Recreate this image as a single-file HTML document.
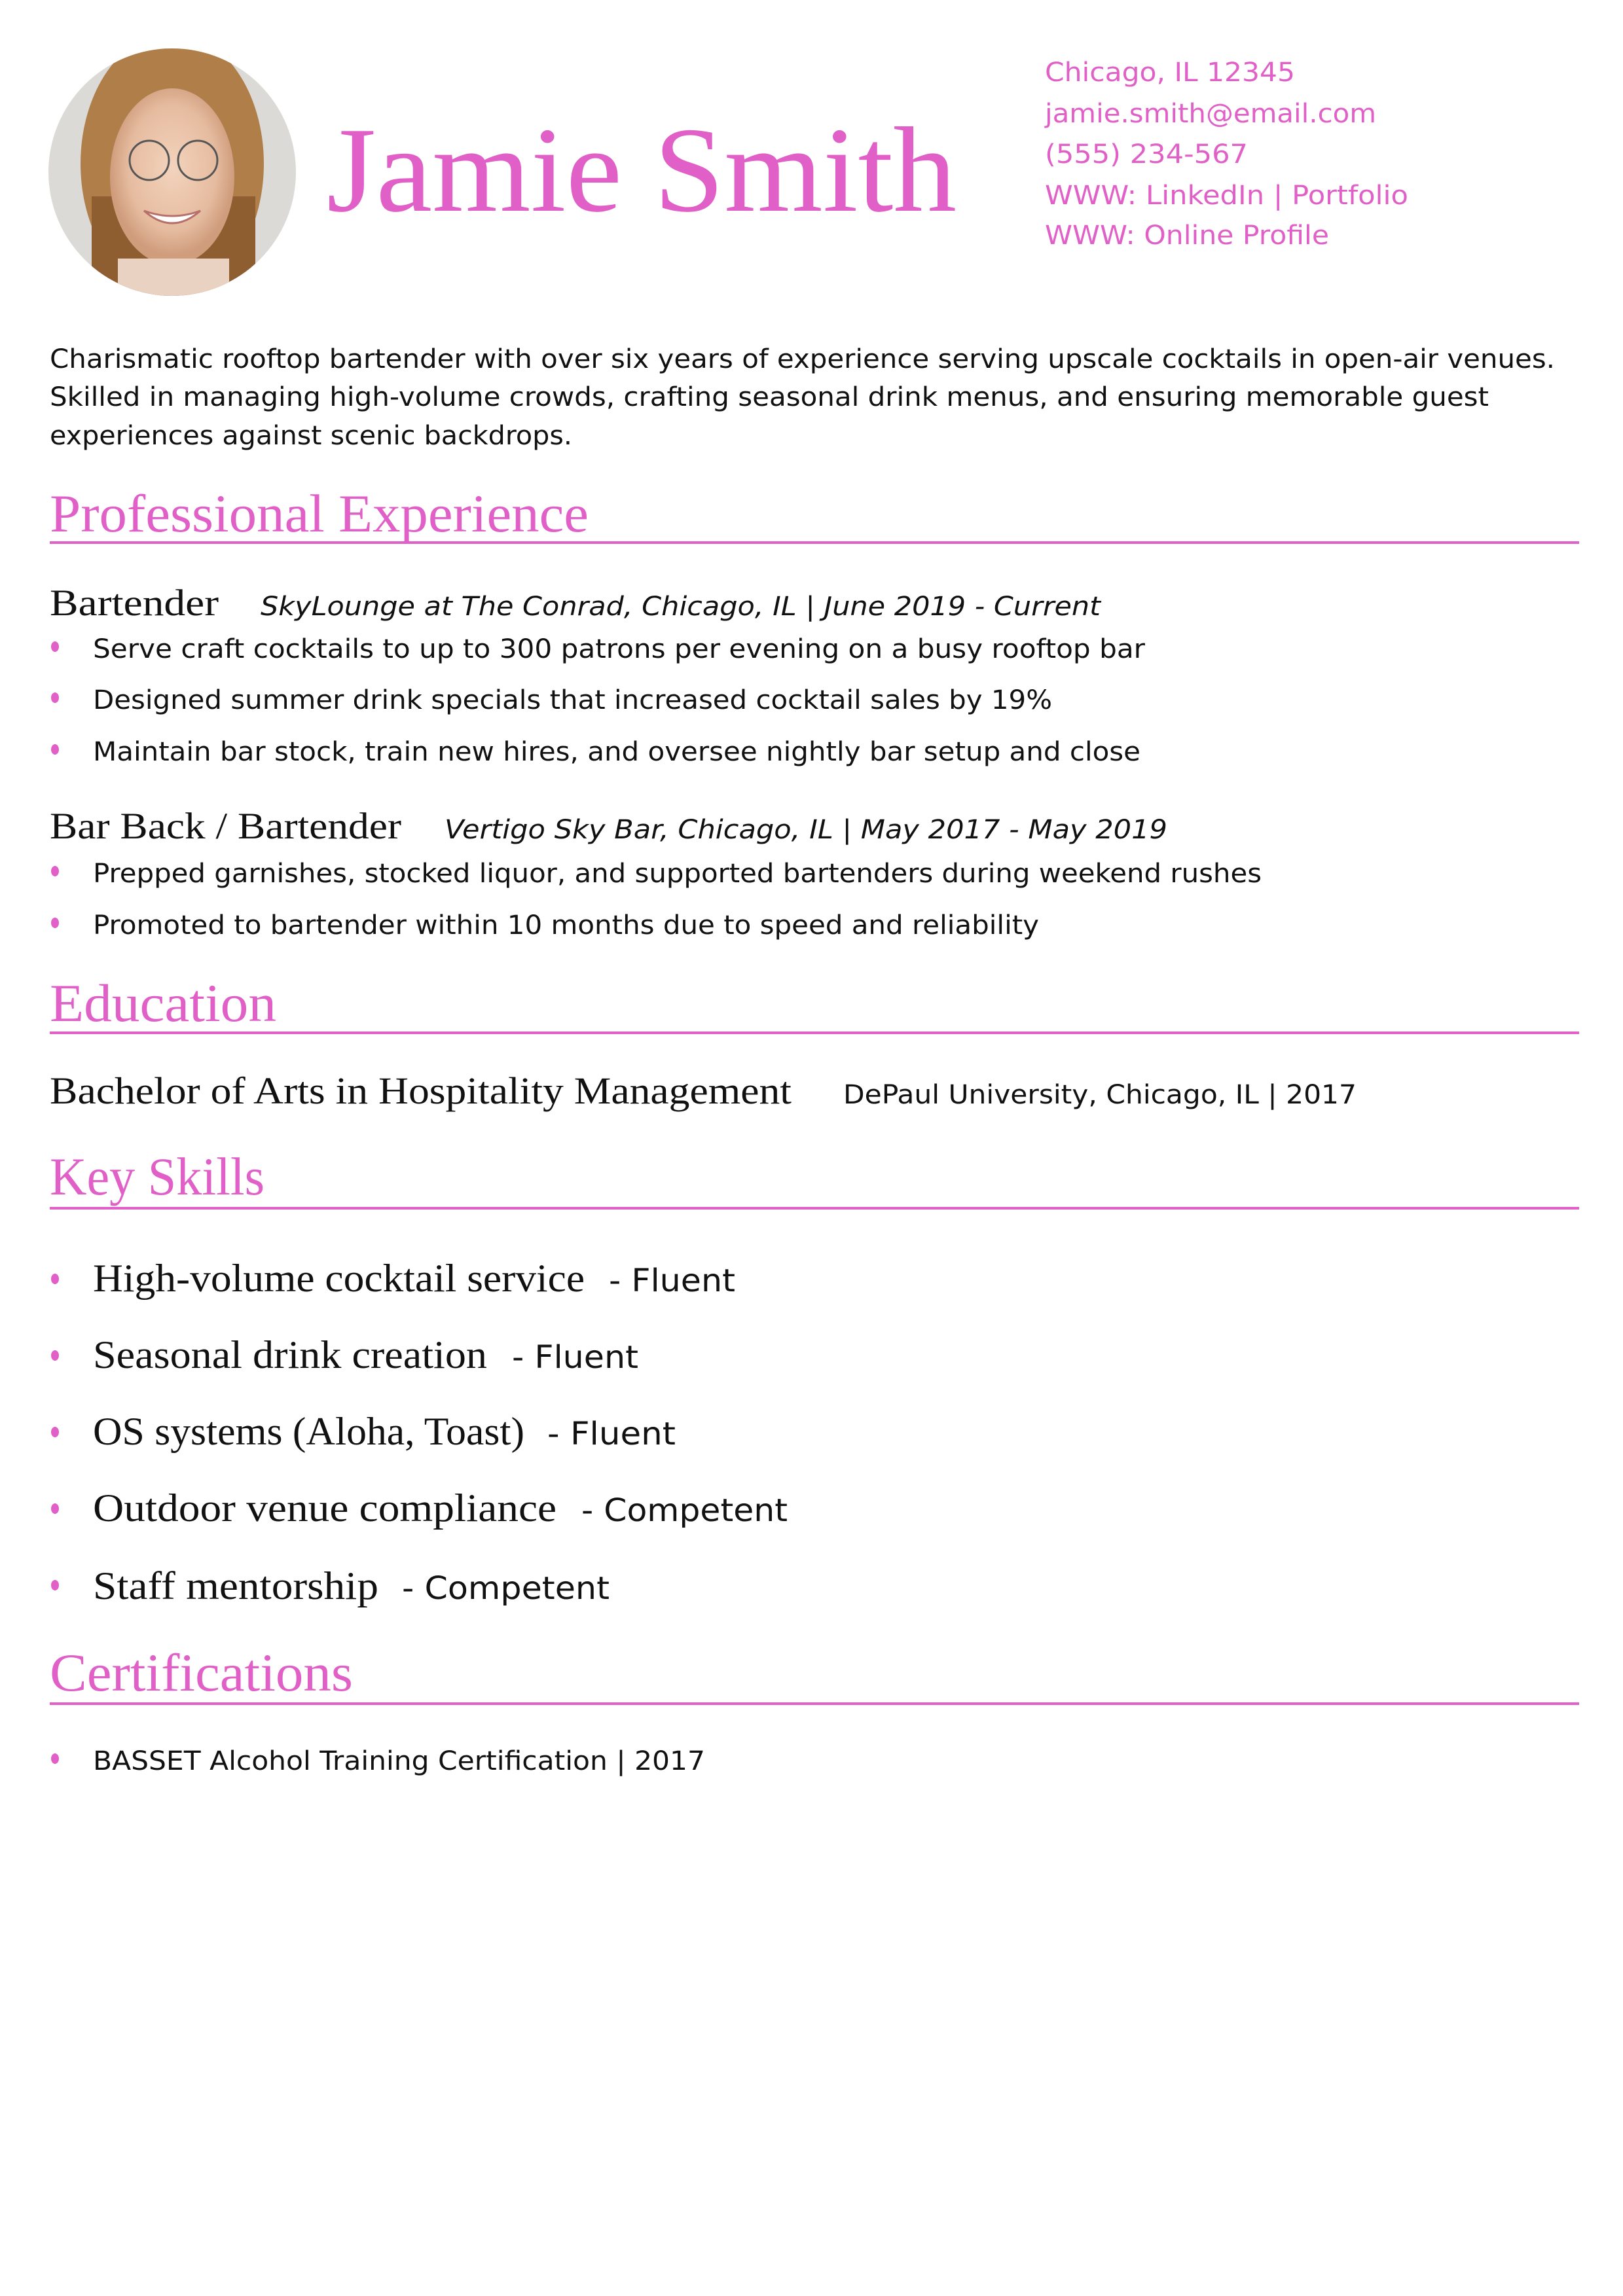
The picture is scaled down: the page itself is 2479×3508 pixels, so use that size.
<!DOCTYPE html>
<html><head><meta charset="utf-8"><style>
html,body{margin:0;padding:0;background:#fff}
svg{display:block}
.s{font-family:"DejaVu Sans","Liberation Sans",sans-serif}
.r{font-family:"Liberation Serif",serif}
.p{fill:#e060c8}
</style></head><body>
<svg width="2479" height="3508" viewBox="0 0 2479 3508" xmlns="http://www.w3.org/2000/svg">
<defs>
<clipPath id="c"><circle cx="263" cy="263" r="189"/></clipPath>
<radialGradient id="face" cx="0.5" cy="0.45" r="0.5">
<stop offset="0" stop-color="#f3d3bd"/><stop offset="0.7" stop-color="#e6bca0"/><stop offset="1" stop-color="#cf9c7c"/></radialGradient>
</defs>
<g clip-path="url(#c)">
<rect x="70" y="70" width="390" height="390" fill="#dcdad6"/>
<ellipse cx="263" cy="250" rx="140" ry="200" fill="#b07e48"/>
<rect x="140" y="300" width="250" height="170" fill="#8e5d30"/>
<ellipse cx="263" cy="270" rx="95" ry="135" fill="url(#face)"/>
<circle cx="228" cy="245" r="30" fill="none" stroke="#555" stroke-width="3"/>
<circle cx="302" cy="245" r="30" fill="none" stroke="#555" stroke-width="3"/>
<path d="M220 322 Q263 360 306 322 Q263 338 220 322Z" fill="#fff" stroke="#b8706a" stroke-width="3"/>
<rect x="180" y="395" width="170" height="80" fill="#ead2c2"/>
</g>
<text x="499" y="322" class="r p" font-size="186" textLength="962" lengthAdjust="spacingAndGlyphs">Jamie Smith</text>
<g class="s p" font-size="40">
<text x="1596" y="124" textLength="382" lengthAdjust="spacingAndGlyphs">Chicago, IL 12345</text>
<text x="1596" y="187" textLength="506" lengthAdjust="spacingAndGlyphs">jamie.smith@email.com</text>
<text x="1596" y="249" textLength="310" lengthAdjust="spacingAndGlyphs">(555) 234-567</text>
<text x="1596" y="312" textLength="555" lengthAdjust="spacingAndGlyphs">WWW: LinkedIn | Portfolio</text>
<text x="1596" y="373" textLength="434" lengthAdjust="spacingAndGlyphs">WWW: Online Profile</text>
</g>
<g class="s" font-size="40" fill="#111">
<text x="76" y="562" textLength="2299" lengthAdjust="spacingAndGlyphs">Charismatic rooftop bartender with over six years of experience serving upscale cocktails in open-air venues.</text>
<text x="76" y="620" textLength="2198" lengthAdjust="spacingAndGlyphs">Skilled in managing high-volume crowds, crafting seasonal drink menus, and ensuring memorable guest</text>
<text x="76" y="679" textLength="798" lengthAdjust="spacingAndGlyphs">experiences against scenic backdrops.</text>
</g>
<g class="r p" font-size="82">
<text x="76" y="812" textLength="823" lengthAdjust="spacingAndGlyphs">Professional Experience</text>
<text x="76" y="1560" textLength="346" lengthAdjust="spacingAndGlyphs">Education</text>
<text x="76" y="1825" textLength="328" lengthAdjust="spacingAndGlyphs">Key Skills</text>
<text x="76" y="2583" textLength="463" lengthAdjust="spacingAndGlyphs">Certifications</text>
</g>
<g fill="#e060c8">
<rect x="76" y="827" width="2336" height="4"/>
<rect x="76" y="1576" width="2336" height="4"/>
<rect x="76" y="1844" width="2336" height="4"/>
<rect x="76" y="2601" width="2336" height="4"/>
<ellipse cx="84" cy="988" rx="6" ry="8"/>
<ellipse cx="84" cy="1066" rx="6" ry="8"/>
<ellipse cx="84" cy="1145" rx="6" ry="8"/>
<ellipse cx="84" cy="1331" rx="6" ry="8"/>
<ellipse cx="84" cy="1410" rx="6" ry="8"/>
<ellipse cx="84" cy="1954" rx="6" ry="8"/>
<ellipse cx="84" cy="2071" rx="6" ry="8"/>
<ellipse cx="84" cy="2188" rx="6" ry="8"/>
<ellipse cx="84" cy="2305" rx="6" ry="8"/>
<ellipse cx="84" cy="2422" rx="6" ry="8"/>
<ellipse cx="84" cy="2687" rx="6" ry="8"/>
</g>
<g fill="#111">
<text x="76" y="940" class="r" font-size="57" textLength="258" lengthAdjust="spacingAndGlyphs">Bartender</text>
<text x="398" y="940" class="s" font-size="40" font-style="italic" textLength="1283" lengthAdjust="spacingAndGlyphs">SkyLounge at The Conrad, Chicago, IL | June 2019 - Current</text>
<g class="s" font-size="40">
<text x="142" y="1005" textLength="1607" lengthAdjust="spacingAndGlyphs">Serve craft cocktails to up to 300 patrons per evening on a busy rooftop bar</text>
<text x="142" y="1083" textLength="1465" lengthAdjust="spacingAndGlyphs">Designed summer drink specials that increased cocktail sales by 19%</text>
<text x="142" y="1162" textLength="1600" lengthAdjust="spacingAndGlyphs">Maintain bar stock, train new hires, and oversee nightly bar setup and close</text>
</g>
<text x="76" y="1281" class="r" font-size="57" textLength="537" lengthAdjust="spacingAndGlyphs">Bar Back / Bartender</text>
<text x="679" y="1281" class="s" font-size="40" font-style="italic" textLength="1104" lengthAdjust="spacingAndGlyphs">Vertigo Sky Bar, Chicago, IL | May 2017 - May 2019</text>
<g class="s" font-size="40">
<text x="142" y="1348" textLength="1785" lengthAdjust="spacingAndGlyphs">Prepped garnishes, stocked liquor, and supported bartenders during weekend rushes</text>
<text x="142" y="1427" textLength="1445" lengthAdjust="spacingAndGlyphs">Promoted to bartender within 10 months due to speed and reliability</text>
</g>
<text x="76" y="1686" class="r" font-size="58" textLength="1133" lengthAdjust="spacingAndGlyphs">Bachelor of Arts in Hospitality Management</text>
<text x="1288" y="1686" class="s" font-size="40" textLength="784" lengthAdjust="spacingAndGlyphs">DePaul University, Chicago, IL | 2017</text>
<g class="r" font-size="60">
<text x="142" y="1973" textLength="751" lengthAdjust="spacingAndGlyphs">High-volume cocktail service</text>
<text x="142" y="2090" textLength="602" lengthAdjust="spacingAndGlyphs">Seasonal drink creation</text>
<text x="142" y="2207" textLength="659" lengthAdjust="spacingAndGlyphs">OS systems (Aloha, Toast)</text>
<text x="142" y="2324" textLength="708" lengthAdjust="spacingAndGlyphs">Outdoor venue compliance</text>
<text x="142" y="2443" textLength="436" lengthAdjust="spacingAndGlyphs">Staff mentorship</text>
</g>
<g class="s" font-size="48">
<text x="930" y="1973" textLength="193" lengthAdjust="spacingAndGlyphs">- Fluent</text>
<text x="782" y="2090" textLength="193" lengthAdjust="spacingAndGlyphs">- Fluent</text>
<text x="836" y="2207" textLength="196" lengthAdjust="spacingAndGlyphs">- Fluent</text>
<text x="888" y="2324" textLength="315" lengthAdjust="spacingAndGlyphs">- Competent</text>
<text x="614" y="2443" textLength="317" lengthAdjust="spacingAndGlyphs">- Competent</text>
</g>
<text x="142" y="2704" class="s" font-size="40" textLength="935" lengthAdjust="spacingAndGlyphs">BASSET Alcohol Training Certification | 2017</text>
</g>
</svg>
</body></html>
